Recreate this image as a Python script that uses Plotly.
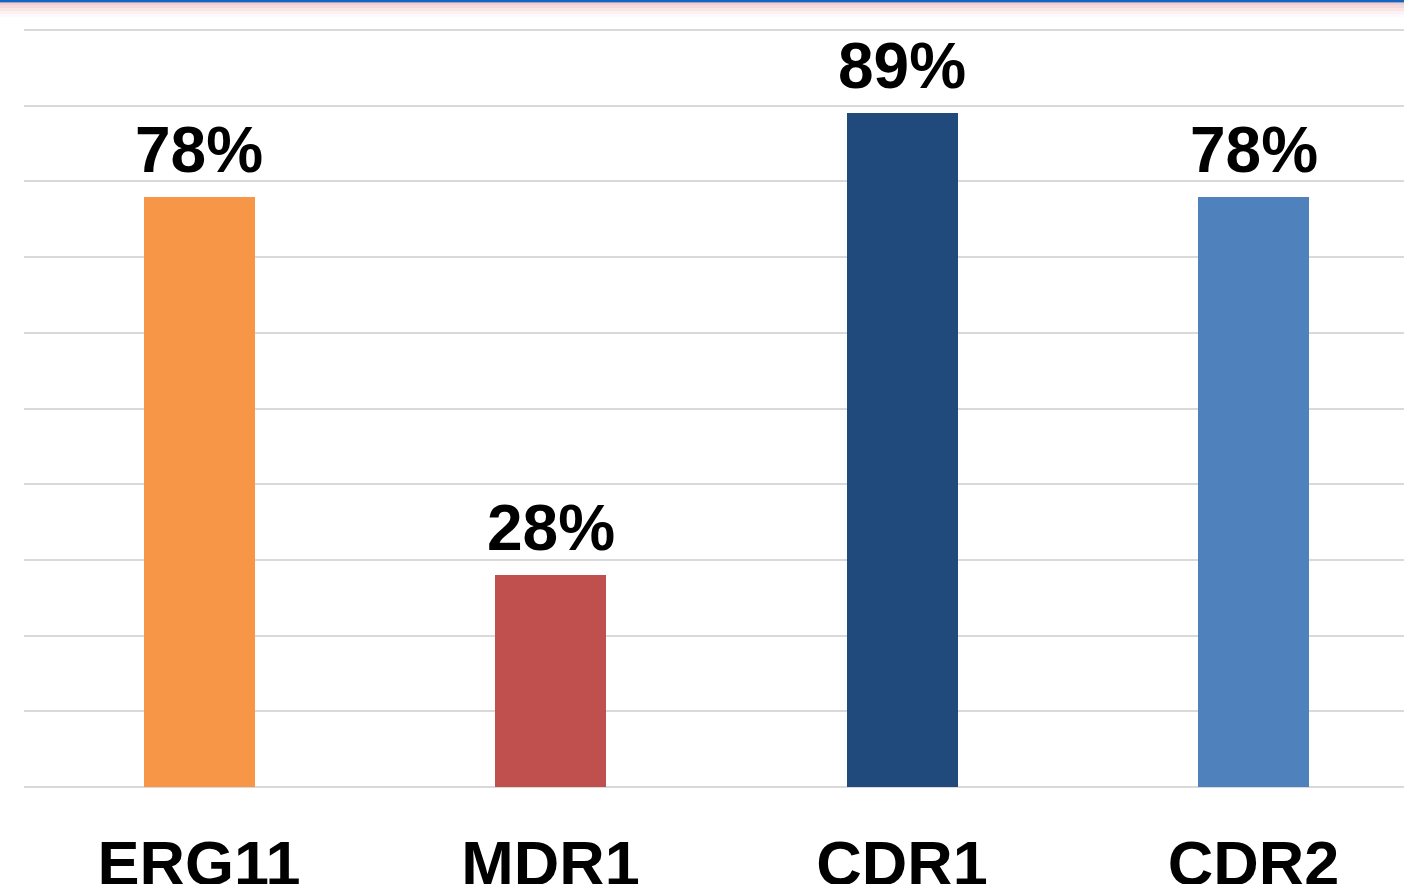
import plotly.graph_objects as go

# Gene expression share per resistance gene
genes = ["ERG11", "MDR1", "CDR1", "CDR2"]
percent = [78, 28, 89, 78]
bar_colors = ["#F79646", "#C0504D", "#214A7C", "#4F81BD"]

FONT = "Arial, 'Liberation Sans', sans-serif"

fig = go.Figure()
fig.add_trace(go.Bar(
    x=genes,
    y=percent,
    width=0.316,
    marker=dict(color=bar_colors, line=dict(width=0)),
    hoverinfo="skip",
))

# Percentage labels above each bar
for g, v in zip(genes, percent):
    fig.add_annotation(
        x=g, y=v, text=f"<b>{v}%</b>", showarrow=False,
        xanchor="center", yanchor="bottom", yshift=9,
        font=dict(family=FONT, size=64, color="#000000"),
    )

PLOT_H = 760
# Thin blue rule with a soft pink fade along the top edge
top = 1 + 27 / PLOT_H
fig.add_shape(type="rect", xref="paper", yref="paper",
              x0=-0.05, x1=1.05, y0=top - 2.5 / PLOT_H, y1=top + 0.01,
              fillcolor="#1565C0", line=dict(width=0), layer="above")
fade = [(2.5, 5, 0.34), (5, 8, 0.26), (8, 11, 0.17), (11, 14, 0.09), (14, 17, 0.04)]
for a, b, op in fade:
    fig.add_shape(type="rect", xref="paper", yref="paper",
                  x0=-0.05, x1=1.05, y0=top - b / PLOT_H, y1=top - a / PLOT_H,
                  fillcolor=f"rgba(220,110,120,{op})", line=dict(width=0), layer="above")

fig.update_layout(
    width=1404, height=884,
    margin=dict(l=24, r=0, t=27, b=97, autoexpand=False),
    paper_bgcolor="#FFFFFF", plot_bgcolor="#FFFFFF",
    showlegend=False,
    bargap=0,
    xaxis=dict(
        range=[-0.498, 3.428],
        automargin=False,
        showgrid=False, zeroline=False, showline=False, ticks="",
        ticklabelstandoff=34,
        tickfont=dict(family=FONT, size=63, color="#000000", weight="bold"),
    ),
    yaxis=dict(
        range=[0, 100.4], dtick=10, automargin=False,
        showgrid=True, gridcolor="#D9D9D9", gridwidth=2,
        zeroline=True, zerolinecolor="#D9D9D9", zerolinewidth=2,
        showticklabels=False, ticks="", showline=False,
    ),
)

fig.write_html("out.html")
